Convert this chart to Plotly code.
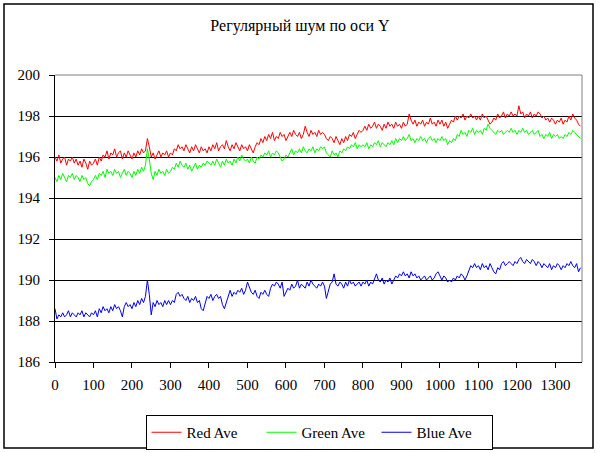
import plotly.graph_objects as go

step = 5
x_tick_vals = list(range(0, 1301, 100))
y_tick_vals = [186, 188, 190, 192, 194, 196, 198, 200]

red_ave = [
    196.0, 195.8, 196.1, 195.7, 195.9, 196.0, 195.6, 195.9, 195.8, 196.0, 195.7, 195.9, 195.6, 195.8, 195.5, 195.9, 195.7, 195.4, 195.8, 195.6,
    195.7, 195.9, 195.6, 196.0, 195.8, 196.1, 196.0, 196.3, 195.9, 196.2, 196.1, 196.4, 196.0, 196.2, 196.3, 195.9, 196.2, 196.0, 196.3, 196.1,
    195.9, 196.2, 196.0, 196.3, 196.1, 196.4, 196.2, 196.3, 196.9, 196.5, 196.0, 196.2, 195.9, 196.1, 196.3, 196.0, 196.2, 196.1, 196.3, 196.0,
    196.2, 196.1, 196.4, 196.3, 196.6, 196.4, 196.5, 196.3, 196.6, 196.4, 196.2, 196.5, 196.3, 196.6, 196.4, 196.2, 196.5, 196.3, 196.4, 196.2,
    196.5, 196.3, 196.6, 196.4, 196.7, 196.3, 196.5, 196.6, 196.4, 196.8, 196.5, 196.3, 196.6, 196.4, 196.7, 196.5, 196.3, 196.6, 196.4, 196.5,
    196.3, 196.6, 196.4, 196.2, 196.5, 196.7, 196.6, 196.9, 196.7, 197.0, 196.8, 197.1, 196.9, 197.2, 196.8, 197.0, 196.9, 197.2, 197.0, 197.1,
    196.8, 197.0, 197.2, 197.0, 197.3, 197.1, 197.0, 197.2, 196.9, 197.1, 197.5, 197.2, 197.0, 197.3, 197.1, 197.2, 197.0, 197.3, 197.1, 197.2,
    197.1, 196.9, 196.8, 197.0, 196.9, 196.7, 197.0, 196.8, 196.6, 196.9, 196.7, 197.0, 196.8, 197.1, 197.0, 197.2, 196.9, 197.1, 197.3, 197.2,
    197.3, 197.5, 197.3, 197.6, 197.4, 197.5, 197.7, 197.4, 197.6, 197.5, 197.3, 197.6, 197.4, 197.7, 197.5, 197.6, 197.4, 197.7, 197.5, 197.6,
    197.4, 197.7, 197.5, 197.6, 198.1, 197.8, 197.6, 197.8, 197.5, 197.7, 197.6, 197.8, 197.5, 197.7, 197.6, 197.9, 197.6, 197.7, 197.5, 197.8,
    197.6, 197.8, 197.5, 197.7, 197.4, 197.6, 197.8, 197.7, 198.0, 197.8, 198.0, 197.9, 198.1, 197.8, 198.0, 197.9, 198.1, 197.9, 198.0, 197.8,
    198.0, 197.8, 198.1, 197.9, 198.0, 197.8, 197.6, 197.7, 197.9, 197.8, 198.1, 197.9, 198.0, 198.2, 197.9, 198.1, 198.0, 198.2, 198.0, 198.1,
    198.0, 198.5, 198.1, 198.2, 197.9, 198.1, 198.0, 198.2, 197.9, 198.1, 198.0, 198.2, 198.1, 197.9, 198.0, 197.8, 197.9, 197.7, 197.9, 197.8,
    197.6, 197.8, 197.7, 197.9, 197.6, 197.8, 197.7, 198.0, 197.8, 198.1, 197.9, 197.8, 197.6, 197.5,
]

green_ave = [
    195.0, 194.8, 195.1, 194.9, 195.2, 195.0, 194.8, 195.1, 195.0, 195.2, 194.9, 195.1, 195.0, 194.8, 195.1, 194.9, 195.0, 194.7, 194.6, 194.8,
    194.9, 195.1, 194.9, 195.2, 195.1, 195.3, 195.0, 195.4, 195.2, 195.3, 195.1, 195.4, 195.2, 195.3, 195.0, 195.2, 195.4, 195.1, 195.3, 195.2,
    195.0, 195.3, 195.1, 195.4, 195.2, 195.5, 195.3, 195.6, 196.4, 195.9, 195.2, 194.9, 195.3, 195.1, 195.4, 195.2, 195.3, 195.1, 195.4, 195.2,
    195.3, 195.5, 195.4, 195.7, 195.5, 195.8, 195.6, 195.5, 195.7, 195.4, 195.6, 195.3, 195.5, 195.7, 195.4, 195.6, 195.5, 195.7, 195.6, 195.8,
    195.7, 195.6, 195.8, 195.6, 195.9, 195.7, 195.5, 195.8, 195.6, 195.9, 195.7, 195.8, 195.6, 195.9, 195.7, 196.0, 195.8, 196.1, 195.9, 195.8,
    195.9, 195.7, 196.0, 195.8, 195.7, 196.0, 195.9, 196.1, 196.0, 196.2, 196.1, 196.3, 196.0, 196.2, 196.1, 196.3, 196.2, 196.0, 195.8, 195.9,
    196.1, 196.0, 196.2, 196.4, 196.1, 196.3, 196.2, 196.4, 196.2, 196.5, 196.3, 196.2, 196.4, 196.3, 196.5, 196.2, 196.4, 196.3, 196.5, 196.4,
    196.5, 196.2, 196.1, 196.0, 196.3, 196.1, 196.2, 196.0, 196.3, 196.2, 196.4, 196.3, 196.5, 196.4, 196.6, 196.5, 196.7, 196.4, 196.6, 196.5,
    196.6, 196.5, 196.7, 196.4, 196.6, 196.5, 196.7, 196.6, 196.8, 196.5, 196.7, 196.6, 196.5, 196.7, 196.6, 196.8, 196.6, 196.9, 196.7, 196.9,
    196.8, 197.0, 196.8, 196.9, 197.1, 196.8, 196.9, 196.7, 196.9, 196.8, 197.0, 196.8, 196.9, 196.7, 196.9, 197.0, 196.8, 196.9, 196.7, 196.9,
    196.8, 197.0, 196.8, 196.9, 196.6, 196.8, 196.7, 196.9, 196.8, 197.1, 197.0, 197.3, 197.1, 197.2, 197.0, 197.3, 197.2, 197.4, 197.1, 197.3,
    197.2, 197.3, 197.1, 197.4, 197.3, 197.6, 197.4, 197.3, 197.2, 197.1, 197.3, 197.2, 197.3, 197.1, 197.2, 197.3, 197.2, 197.4, 197.2, 197.3,
    197.1, 197.3, 197.2, 197.4, 197.2, 197.3, 197.1, 197.2, 197.3, 197.1, 197.2, 197.3, 197.0, 197.1, 196.9, 197.1, 197.0, 197.2, 196.9, 197.1,
    197.0, 197.1, 196.9, 197.0, 196.9, 197.1, 197.0, 197.2, 197.1, 197.3, 197.2, 197.1, 197.0, 196.9,
]

blue_ave = [
    188.6, 188.1, 188.3, 188.2, 188.4, 188.2, 188.3, 188.5, 188.2, 188.4, 188.3, 188.2, 188.4, 188.3, 188.5, 188.2, 188.4, 188.3, 188.2, 188.4,
    188.3, 188.5, 188.2, 188.6, 188.4, 188.7, 188.5, 188.6, 188.4, 188.7, 188.5, 188.8, 188.6, 188.7, 188.5, 188.2, 188.7, 188.9, 188.7, 188.8,
    188.6, 188.9, 188.7, 189.0, 188.8, 189.1, 188.9, 189.2, 190.0, 189.3, 188.3, 188.9, 188.7, 189.0, 188.8, 188.9, 188.7, 189.0, 188.8, 189.0,
    188.8, 189.0, 188.9, 189.3, 189.4, 189.2, 189.3, 189.1, 189.0, 189.2, 188.9, 189.1, 189.0, 189.2, 188.9, 189.0, 188.6, 188.5, 188.9, 189.2,
    189.1, 189.3, 189.0, 189.2, 189.3, 189.1, 189.2, 188.8, 188.6, 188.9, 189.3, 189.5, 189.2, 189.4, 189.3, 189.5, 189.4, 189.6, 189.3, 189.5,
    189.9, 189.6, 189.4, 189.3, 189.5, 189.2, 189.1, 189.4, 189.3, 189.5, 189.3, 189.2, 189.6, 189.8, 189.7, 189.9, 189.8, 189.6, 189.9, 189.2,
    189.4, 189.6, 189.5, 189.8, 189.6, 189.7, 190.0, 189.6, 189.8, 189.7, 189.6, 189.9, 189.7, 190.0, 189.8, 189.7, 189.6, 189.8, 189.7, 189.9,
    189.7, 189.1, 189.5, 189.8, 189.9, 190.3, 189.8, 189.7, 189.9, 189.8, 189.6, 189.9, 189.7, 190.0, 189.8, 189.9, 189.7, 189.8, 189.9, 189.7,
    189.9, 189.8, 190.0, 189.7, 189.9, 189.8, 190.1, 190.3, 190.0, 189.9, 190.1, 189.8, 190.0, 189.9, 190.1, 189.8, 190.0, 190.2, 190.1, 190.3,
    190.2, 190.4, 190.2, 190.3, 190.1, 190.4, 190.2, 190.3, 190.1, 190.2, 190.0, 190.1, 190.2, 190.0, 190.1, 190.2, 190.0, 190.1, 190.3, 190.4,
    190.2, 190.0, 190.2, 190.1, 189.9, 190.0, 189.9, 190.1, 190.0, 190.2, 190.1, 190.3, 190.2, 190.0, 190.2, 190.5, 190.7, 190.6, 190.8, 190.6,
    190.7, 190.5, 190.8, 190.6, 190.7, 190.5, 190.8, 190.6, 190.4, 190.3, 190.6, 190.5, 190.8, 190.9, 190.7, 190.8, 190.9, 190.8, 190.7, 190.9,
    190.8, 191.0, 191.1, 190.9, 190.8, 191.0, 190.9, 190.8, 191.0, 190.9, 190.7, 190.9, 190.8, 190.6, 190.8, 190.7, 190.6, 190.8, 190.5, 190.7,
    190.6, 190.8, 190.7, 190.5, 190.7, 190.6, 190.8, 190.7, 190.9, 190.7, 190.6, 190.8, 190.4, 190.6,
]

x_vals = [i * step for i in range(len(red_ave))]

FONT = '"Liberation Serif", "Times New Roman", serif'

fig = go.Figure()
fig.add_trace(go.Scatter(x=x_vals, y=red_ave, mode="lines", name="Red Ave",
                         line=dict(color="#FF0000", width=1)))
fig.add_trace(go.Scatter(x=x_vals, y=green_ave, mode="lines", name="Green Ave",
                         line=dict(color="#00FF00", width=1)))
fig.add_trace(go.Scatter(x=x_vals, y=blue_ave, mode="lines", name="Blue Ave",
                         line=dict(color="#0000EE", width=1)))

W, H = 600, 453
L, R, T, B = 55, 18, 75, 91
PW, PH = W - L - R, H - T - B

def px(xp):
    return (xp - L) / PW

def py(yp):
    return (H - B - yp) / PH

fig.update_layout(
    width=W, height=H,
    margin=dict(l=L, r=R, t=T, b=B, autoexpand=False),
    paper_bgcolor="white", plot_bgcolor="white",
    font=dict(family=FONT, size=15, color="black"),
    title=dict(text="Регулярный шум по оси Y", x=0.5, xref="container", xanchor="center",
               y=1 - 25 / H, yanchor="middle", yref="container",
               font=dict(family=FONT, size=16, color="black")),
    xaxis=dict(range=[0, 1369], tickvals=x_tick_vals, showgrid=False, zeroline=False,
               showline=True, linecolor="black", linewidth=1, automargin=False,
               ticks="outside", ticklen=5, tickcolor="black", ticklabelstandoff=4,
               tickfont=dict(family=FONT, size=15)),
    yaxis=dict(range=[186, 200], tickvals=y_tick_vals, showgrid=True, gridcolor="black",
               gridwidth=1, zeroline=False, showline=True, linecolor="black", linewidth=1,
               automargin=False, ticks="outside", ticklen=5, tickcolor="black",
               ticklabelstandoff=6, tickfont=dict(family=FONT, size=15)),
    legend=dict(orientation="h", xref="container", x=319 / W, xanchor="center",
                yref="container", y=1 - 415 / H, yanchor="top",
                bordercolor="black", borderwidth=1, bgcolor="white",
                font=dict(family=FONT, size=15), entrywidth=70, entrywidthmode="pixels",
                itemwidth=30, tracegroupgap=0),
    showlegend=True,
    shapes=[
        dict(type="line", xref="paper", yref="paper", x0=0, x1=1, y0=1, y1=1,
             line=dict(color="#808080", width=1), layer="above"),
        dict(type="line", xref="paper", yref="paper", x0=1, x1=1, y0=0, y1=1,
             line=dict(color="#808080", width=1), layer="above"),
        dict(type="rect", xref="paper", yref="paper", x0=px(4), x1=px(593), y0=py(448), y1=py(4),
             line=dict(color="black", width=1.5), fillcolor="rgba(0,0,0,0)", layer="above"),
    ],
)

fig.write_html("out.html", config={"displayModeBar": False},
               post_script="document.body.style.margin='0';")
